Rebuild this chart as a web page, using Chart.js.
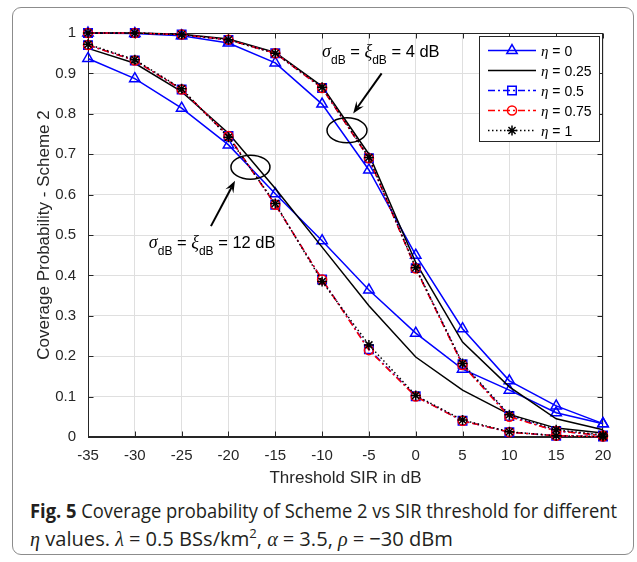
<!DOCTYPE html>
<html><head><meta charset="utf-8">
<script src="https://cdn.jsdelivr.net/npm/chart.js@4.4.1/dist/chart.umd.min.js"></script>
<style>
html,body{margin:0;padding:0;background:#fff;}
#wrap{position:relative;width:637px;height:562px;overflow:hidden;background:#fff;}
#frame{position:absolute;left:12px;top:7px;width:622px;height:548px;border:1.5px solid #8c8c8c;border-radius:9px;box-sizing:border-box;}
#c{position:absolute;left:0;top:0;}
.cap{position:absolute;left:30px;font-family:"Open Sans","Noto Sans",sans-serif;font-size:20px;line-height:27px;color:#231f20;white-space:nowrap;transform-origin:0 0;}
.cap b{font-weight:700;}
.m{font-family:"Liberation Serif","DejaVu Serif",serif;font-style:italic;}
.eq{margin:0 5px;}
.sup{font-size:13px;position:relative;top:-8px;}
</style></head>
<body><div id="wrap"><div id="frame"></div><canvas id="c" width="637" height="492"></canvas>
<div class="cap" id="cap1" style="top:497px"><b>Fig. 5</b> Coverage probability of Scheme 2 vs SIR threshold for different</div>
<div class="cap" id="cap2" style="top:525px"><span class="m">η</span> values. <span class="m">λ</span><span class="eq">=</span>0.5 BSs/km<span class="sup">2</span>, <span class="m">α</span><span class="eq">=</span>3.5, <span class="m">ρ</span><span class="eq">=</span>−30 dBm</div>
</div>
<script>
// ---- data ----
const sir = [-35, -30, -25, -20, -15, -10, -5, 0, 5, 10, 15, 20];
const xTickValues = [-35, -30, -25, -20, -15, -10, -5, 0, 5, 10, 15, 20];
const xTickLabels = ['-35', '-30', '-25', '-20', '-15', '-10', '-5', '0', '5', '10', '15', '20'];
const yTickValues = [0, 0.1, 0.2, 0.3, 0.4, 0.5, 0.6, 0.7, 0.8, 0.9, 1];
const yTickLabels = ['0', '0.1', '0.2', '0.3', '0.4', '0.5', '0.6', '0.7', '0.8', '0.9', '1'];
const etaNames = ['0', '0.25', '0.5', '0.75', '1'];

// sigma_dB = xi_dB = 4 dB
const p4_eta0   = [1.000, 0.999, 0.993, 0.975, 0.926, 0.824, 0.661, 0.450, 0.268, 0.139, 0.077, 0.033];
const p4_eta025 = [1.000, 1.000, 0.997, 0.985, 0.952, 0.868, 0.700, 0.432, 0.235, 0.124, 0.045, 0.018];
const p4_eta05  = [1.000, 1.000, 0.996, 0.983, 0.950, 0.864, 0.690, 0.418, 0.180, 0.052, 0.015, 0.004];
const p4_eta075 = [1.000, 1.000, 0.996, 0.983, 0.950, 0.864, 0.690, 0.417, 0.178, 0.050, 0.015, 0.004];
const p4_eta1   = [1.000, 1.000, 0.996, 0.983, 0.950, 0.866, 0.692, 0.419, 0.182, 0.055, 0.018, 0.005];
// sigma_dB = xi_dB = 12 dB
const p12_eta0   = [0.937, 0.887, 0.814, 0.723, 0.602, 0.486, 0.364, 0.257, 0.168, 0.116, 0.060, 0.033];
const p12_eta025 = [0.962, 0.925, 0.855, 0.752, 0.615, 0.470, 0.325, 0.198, 0.116, 0.056, 0.022, 0.010];
const p12_eta05  = [0.970, 0.932, 0.860, 0.745, 0.575, 0.390, 0.217, 0.101, 0.040, 0.012, 0.003, 0.001];
const p12_eta075 = [0.970, 0.932, 0.860, 0.745, 0.575, 0.390, 0.215, 0.100, 0.040, 0.012, 0.003, 0.001];
const p12_eta1   = [0.972, 0.934, 0.862, 0.742, 0.578, 0.385, 0.228, 0.103, 0.042, 0.013, 0.003, 0.001];

const group4 = [p4_eta0, p4_eta025, p4_eta05, p4_eta075, p4_eta1];
const group12 = [p12_eta0, p12_eta025, p12_eta05, p12_eta075, p12_eta1];

// ---- styles ----
const SANS = '"Liberation Sans", Arial, Helvetica, sans-serif';
const SERIF_I = '"Liberation Serif", "DejaVu Serif", serif';
const AX = '#262626';
const styles = [
  {color: '#0000ff', dash: [], point: 'triangle', r: 6},
  {color: '#000000', dash: [], point: false, r: 0},
  {color: '#0000ff', dash: [7, 3, 2, 3], point: 'rect', r: 6},
  {color: '#ff0000', dash: [7, 3, 2, 3], point: 'circle', r: 4.5},
  {color: '#000000', dash: [1.5, 2.5], point: 'star', r: 5}
];

function makeDataset(vals, i, tag) {
  const st = styles[i];
  return {
    label: 'η = ' + etaNames[i] + ' (' + tag + ')',
    data: sir.map((x, k) => ({x: x, y: vals[k]})),
    borderColor: st.color,
    borderWidth: 1.5,
    borderDash: st.dash,
    pointStyle: st.point || 'circle',
    pointRadius: st.r,
    pointHoverRadius: st.r,
    pointBorderColor: st.color,
    pointBackgroundColor: 'rgba(0,0,0,0)',
    pointBorderWidth: 1.5,
    fill: false,
    tension: 0,
    clip: false,
    order: 4 - i
  };
}
const datasets = [];
group4.forEach((v, i) => datasets.push(makeDataset(v, i, '4 dB')));
group12.forEach((v, i) => datasets.push(makeDataset(v, i, '12 dB')));

// annotation anchors (data units)
const notes = [
  {text: '4 dB', tx: -10.0, ty: 0.941, ex: -7.34, ey: 0.759, rx: 20, ry: 12.5, ax1: -3.64, ay1: 0.900, ax2: -6.68, ay2: 0.801},
  {text: '12 dB', tx: -28.5, ty: 0.468, ex: -17.65, ey: 0.668, rx: 19.5, ry: 12, ax1: -21.87, ay1: 0.522, ax2: -19.3, ay2: 0.634}
];

function drawRich(ctx, x, y, parts) {
  ctx.textBaseline = 'alphabetic';
  ctx.textAlign = 'left';
  for (const p of parts) {
    ctx.font = p.f;
    ctx.fillText(p.t, x, y + (p.dy || 0));
    x += ctx.measureText(p.t).width;
  }
  return x;
}

function arrow(ctx, x1, y1, x2, y2) {
  const a = Math.atan2(y2 - y1, x2 - x1);
  const L = 12, W = 4.5;
  const ca = Math.cos(a), sa = Math.sin(a);
  ctx.beginPath();
  ctx.moveTo(x1, y1);
  ctx.lineTo(x2 - L * 0.6 * ca, y2 - L * 0.6 * sa);
  ctx.stroke();
  ctx.beginPath();
  ctx.moveTo(x2, y2);
  ctx.lineTo(x2 - L * ca + W * sa, y2 - L * sa - W * ca);
  ctx.lineTo(x2 - L * 0.6 * ca, y2 - L * 0.6 * sa);
  ctx.lineTo(x2 - L * ca - W * sa, y2 - L * sa + W * ca);
  ctx.closePath();
  ctx.fill();
}

function marker(ctx, st, x, y) {
  if (!st.point) return;
  ctx.save();
  ctx.setLineDash([]);
  ctx.strokeStyle = st.color;
  ctx.fillStyle = 'rgba(0,0,0,0)';
  ctx.lineWidth = 1.5;
  if (Chart.helpers && Chart.helpers.drawPoint) {
    Chart.helpers.drawPoint(ctx, {pointStyle: st.point, radius: st.r, borderWidth: 1.5, rotation: 0}, x, y);
  }
  ctx.restore();
}

const boxPlugin = {
  id: 'boxPlugin',
  beforeDatasetsDraw(chart) {
    const {ctx, chartArea: ca, scales} = chart;
    ctx.save();
    ctx.strokeStyle = AX;
    ctx.lineWidth = 1;
    const L = Math.round(ca.left) + 0.5, R = Math.round(ca.right) - 0.5;
    const T = Math.round(ca.top) + 0.5, B = Math.round(ca.bottom) - 0.5;
    ctx.strokeRect(L, T, R - L, B - T);
    ctx.beginPath();
    xTickValues.forEach(v => {
      const px = Math.round(scales.x.getPixelForValue(v)) + 0.5;
      ctx.moveTo(px, B); ctx.lineTo(px, B - 5);
      ctx.moveTo(px, T); ctx.lineTo(px, T + 5);
    });
    yTickValues.forEach(v => {
      const py = Math.round(scales.y.getPixelForValue(v)) + 0.5;
      ctx.moveTo(L, py); ctx.lineTo(L + 5, py);
      ctx.moveTo(R, py); ctx.lineTo(R - 5, py);
    });
    ctx.stroke();
    ctx.restore();
  },
  afterDatasetsDraw(chart) {
    const {ctx, scales} = chart;
    const X = v => scales.x.getPixelForValue(v), Y = v => scales.y.getPixelForValue(v);
    ctx.save();
    ctx.fillStyle = '#000';
    ctx.strokeStyle = '#000';
    ctx.lineWidth = 1.5;
    ctx.setLineDash([]);
    notes.forEach(n => {
      ctx.beginPath();
      ctx.ellipse(X(n.ex), Y(n.ey), n.rx, n.ry, 0, 0, Math.PI * 2);
      ctx.stroke();
      ctx.lineWidth = 2;
      arrow(ctx, X(n.ax1), Y(n.ay1), X(n.ax2), Y(n.ay2));
      ctx.lineWidth = 1.5;
      const main = '16.5px ' + SANS, sub = '12px ' + SANS, gr = 'italic 18px ' + SERIF_I;
      drawRich(ctx, X(n.tx), Y(n.ty), [
        {t: 'σ', f: gr}, {t: 'dB', f: sub, dy: 7}, {t: ' = ', f: main},
        {t: 'ξ', f: gr}, {t: 'dB', f: sub, dy: 7}, {t: ' = ' + n.text, f: main}
      ]);
    });
    // legend
    const lx = 479.5, ly = 36.5, lw = 120, lh = 105;
    ctx.fillStyle = '#fff';
    ctx.fillRect(lx, ly, lw, lh);
    ctx.strokeStyle = AX;
    ctx.lineWidth = 1;
    ctx.strokeRect(lx, ly, lw, lh);
    styles.forEach((st, i) => {
      const yy = 50.5 + 20 * i;
      ctx.save();
      ctx.strokeStyle = st.color;
      ctx.lineWidth = 1.5;
      ctx.setLineDash(st.dash);
      ctx.beginPath();
      ctx.moveTo(488, yy); ctx.lineTo(536, yy);
      ctx.stroke();
      ctx.restore();
      marker(ctx, st, 512, yy);
      ctx.fillStyle = '#000';
      drawRich(ctx, 541, yy + 5, [
        {t: 'η', f: 'italic 15px ' + SERIF_I}, {t: ' = ' + etaNames[i], f: '14px ' + SANS}
      ]);
    });
    ctx.restore();
  }
};

Chart.defaults.font.family = SANS;
new Chart(document.getElementById('c'), {
  type: 'line',
  data: {datasets: datasets},
  options: {
    responsive: false,
    animation: false,
    devicePixelRatio: 1,
    events: [],
    layout: {padding: {left: 24, right: 34, top: 33, bottom: 0}},
    plugins: {legend: {display: false}, tooltip: {enabled: false}},
    scales: {
      x: {
        type: 'linear', min: -35, max: 20,
        afterBuildTicks: s => { s.ticks = xTickValues.map(v => ({value: v})); },
        afterFit: s => { s.height = 55; },
        ticks: {color: AX, font: {size: 15}, padding: 10, maxRotation: 0, autoSkip: false,
          callback: (v) => xTickLabels[xTickValues.indexOf(v)]},
        grid: {color: '#dfdfdf', lineWidth: 1, drawTicks: false},
        border: {color: AX, width: 1},
        title: {display: true, text: 'Threshold SIR in dB', color: AX, font: {size: 17}, padding: {top: 0, bottom: 3}}
      },
      y: {
        type: 'linear', min: 0, max: 1,
        afterBuildTicks: s => { s.ticks = yTickValues.map(v => ({value: v})); },
        afterFit: s => { s.width = 64; },
        ticks: {color: AX, font: {size: 15}, padding: 12, autoSkip: false,
          callback: (v) => yTickLabels[yTickValues.findIndex(t => Math.abs(t - v) < 1e-9)]},
        grid: {color: '#dfdfdf', lineWidth: 1, drawTicks: false},
        border: {color: AX, width: 1},
        title: {display: true, text: 'Coverage Probability - Scheme 2', color: AX, font: {size: 17}, padding: {top: 10, bottom: 0}}
      }
    }
  },
  plugins: [boxPlugin]
});

// fit caption widths to reference
(function () {
  const c1 = document.getElementById('cap1'), c2 = document.getElementById('cap2');
  const w1 = c1.getBoundingClientRect().width;
  const w2 = c2.getBoundingClientRect().width;
  c1.style.transform = 'scaleX(' + (587 / w1) + ')';
  c2.style.transform = 'scaleX(' + (423 / w2) + ')';
})();
</script>
</body></html>
